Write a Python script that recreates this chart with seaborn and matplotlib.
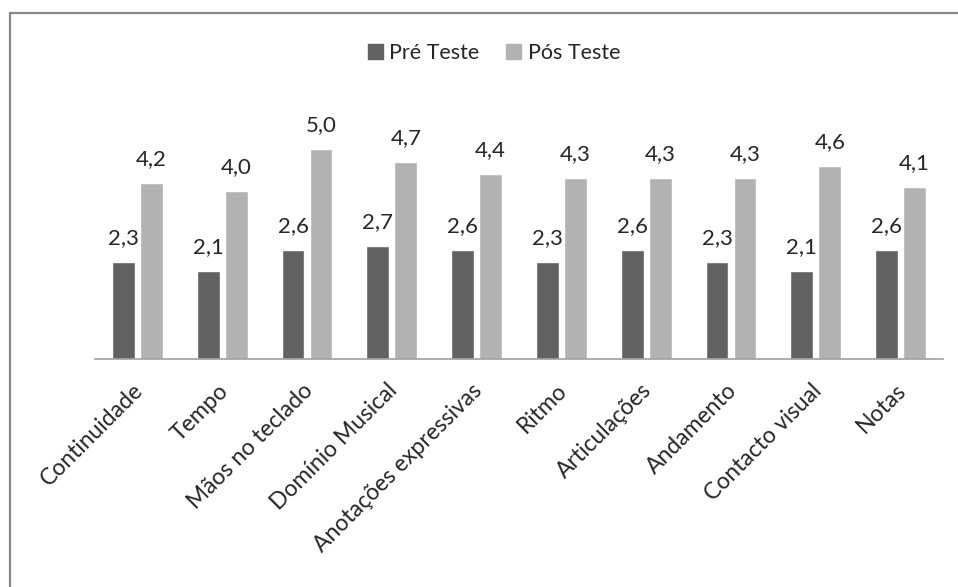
import matplotlib
matplotlib.use("Agg")
import matplotlib.pyplot as plt
import matplotlib.transforms as mtransforms
import seaborn as sns
import pandas as pd
from matplotlib.lines import Line2D

# data
categorias = ["Continuidade", "Tempo", "Mãos no teclado", "Domínio Musical",
              "Anotações expressivas", "Ritmo", "Articulações", "Andamento",
              "Contacto visual", "Notas"]
pre_teste = [2.3, 2.1, 2.6, 2.7, 2.6, 2.3, 2.6, 2.3, 2.1, 2.6]
pos_teste = [4.2, 4.0, 5.0, 4.7, 4.4, 4.3, 4.3, 4.3, 4.6, 4.1]
series = ["Pré Teste", "Pós Teste"]

df = pd.DataFrame({
    "categoria": categorias * 2,
    "serie": [series[0]] * len(categorias) + [series[1]] * len(categorias),
    "valor": pre_teste + pos_teste,
})

sns.set_style("white")
plt.rcParams["font.family"] = ["Lato", "DejaVu Sans"]
TXT = "#262626"

fig = plt.figure(figsize=(9.58, 5.87), dpi=100)
ax = fig.add_axes([95 / 958, 1 - 359 / 587, 848 / 958, 252 / 587])

sns.barplot(data=df, x="categoria", y="valor", hue="serie", order=categorias,
            hue_order=series, palette=["#626262", "#b2b2b2"], width=0.66,
            gap=0.18, saturation=1, ax=ax, legend=False)

for cont in ax.containers:
    ax.bar_label(cont, labels=[f"{b.get_height():.1f}".replace(".", ",") for b in cont],
                 padding=10, fontsize=16, color=TXT)

ax.set_ylim(0, 6)
ax.set_xlim(-0.5, len(categorias) - 0.5)
ax.set_xlabel("")
ax.set_ylabel("")
ax.set_yticks([])
for s in ["top", "right", "left"]:
    ax.spines[s].set_visible(False)
ax.spines["bottom"].set_color("#a0a0a0")
ax.spines["bottom"].set_linewidth(1.2)
ax.tick_params(axis="x", length=0, pad=15)
shift = mtransforms.ScaledTranslation(-5 / 100, 0, fig.dpi_scale_trans)
for lab in ax.get_xticklabels():
    lab.set_rotation(45)
    lab.set_ha("right")
    lab.set_rotation_mode("anchor")
    lab.set_fontsize(16.5)
    lab.set_color(TXT)
    lab.set_transform(lab.get_transform() + shift)

# legend
handles = [plt.Rectangle((0, 0), 1, 1, color=c) for c in ["#626262", "#b2b2b2"]]
fig.legend(handles, series, loc="center", bbox_to_anchor=(494 / 958, 1 - 53 / 587),
           ncol=2, frameon=False, fontsize=15.5, handlelength=0.7,
           handleheight=0.7, handletextpad=0.3, columnspacing=1.25,
           labelcolor=TXT)

# chart area border (top and left visible)
bx, by = 10 / 958, 1 - 13 / 587
fig.add_artist(Line2D([bx, 1], [by, by], transform=fig.transFigure,
                      color="#888888", lw=1.6))
fig.add_artist(Line2D([bx, bx], [0, by], transform=fig.transFigure,
                      color="#888888", lw=1.6))

fig.savefig("out.png", dpi=100)
